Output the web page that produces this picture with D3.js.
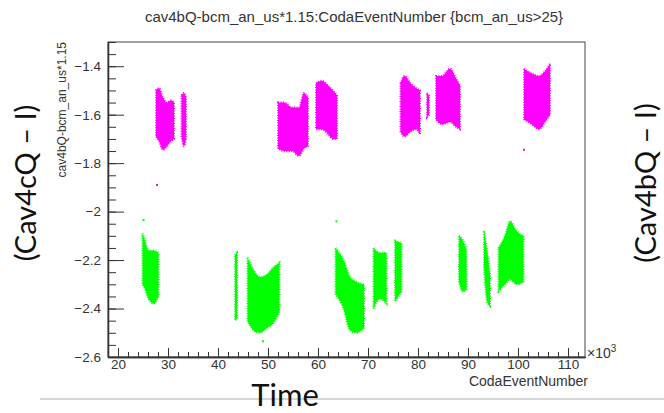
<!DOCTYPE html>
<html>
<head>
<meta charset="utf-8">
<script src="https://cdn.jsdelivr.net/npm/d3@7"></script>
<style>
  body { margin: 0; background: #fff; }
  svg { display: block; }
  .axis text { font-family: "Liberation Sans", Arial, sans-serif; font-size: 13.5px; fill: #333; }
  .axis path, .axis line { stroke: #333; }
</style>
</head>
<body>
<svg width="664" height="413"></svg>
<script>
// axis setup (x in units of 10^3 events)
var xMajor = [20, 30, 40, 50, 60, 70, 80, 90, 100, 110];
var yMajor = [-2.6, -2.4, -2.2, -2, -1.8, -1.6, -1.4];
var yLabels = ["\u22122.6", "\u22122.4", "\u22122.2", "\u22122", "\u22121.8", "\u22121.6", "\u22121.4"];

// clusters: [event(10^3), low, high]
var magenta = [
  [[27.6,-1.69,-1.50],[28.2,-1.71,-1.49],[29.0,-1.745,-1.53],[29.8,-1.73,-1.55],[30.6,-1.71,-1.54],[31.2,-1.70,-1.55]],
  [[32.7,-1.69,-1.52],[33.2,-1.73,-1.51],[33.6,-1.70,-1.53]],
  [[52.0,-1.74,-1.55],[53.2,-1.75,-1.55],[54.8,-1.75,-1.57],[56.2,-1.77,-1.57],[57.2,-1.74,-1.51],[58.0,-1.73,-1.53]],
  [[59.6,-1.66,-1.47],[60.8,-1.66,-1.46],[62.0,-1.68,-1.48],[63.0,-1.70,-1.50],[63.8,-1.70,-1.52]],
  [[76.5,-1.67,-1.47],[77.3,-1.69,-1.44],[78.5,-1.67,-1.47],[79.6,-1.66,-1.49],[80.4,-1.68,-1.50]],
  [[81.8,-1.61,-1.51],[82.2,-1.60,-1.52]],
  [[83.6,-1.62,-1.44],[84.8,-1.64,-1.44],[86.4,-1.63,-1.41],[87.6,-1.65,-1.45],[88.4,-1.66,-1.48]],
  [[101.2,-1.62,-1.41],[102.8,-1.64,-1.43],[104.2,-1.66,-1.44],[105.4,-1.63,-1.42],[106.4,-1.60,-1.39]]
];
var green = [
  [[24.9,-2.30,-2.09],[25.4,-2.32,-2.12],[26.1,-2.36,-2.16],[27.1,-2.38,-2.16],[28.1,-2.35,-2.17]],
  [[43.4,-2.45,-2.18],[43.8,-2.44,-2.17]],
  [[45.9,-2.45,-2.19],[47.1,-2.49,-2.24],[48.4,-2.50,-2.27],[49.8,-2.48,-2.26],[51.1,-2.46,-2.23],[52.3,-2.41,-2.21]],
  [[63.5,-2.34,-2.15],[65.1,-2.40,-2.20],[66.4,-2.49,-2.27],[67.7,-2.50,-2.29],[69.2,-2.48,-2.30]],
  [[71.1,-2.40,-2.15],[72.4,-2.36,-2.17],[73.7,-2.38,-2.17]],
  [[75.4,-2.37,-2.12],[76.7,-2.33,-2.13]],
  [[88.2,-2.29,-2.10],[89.0,-2.33,-2.12],[89.7,-2.32,-2.16]],
  [[93.2,-2.23,-2.08],[93.8,-2.37,-2.16],[94.4,-2.39,-2.26]],
  [[96.1,-2.33,-2.15],[97.4,-2.30,-2.10],[98.4,-2.28,-2.04],[99.7,-2.30,-2.08],[101.1,-2.29,-2.10]]
];
// stray single points
var magentaOut = [[27.8,-1.89],[101.2,-1.745]];
var greenOut = [[25.1,-2.035],[63.7,-2.04],[49.0,-2.535]];

var svg = d3.select("svg");
var fL = 108, fR = 585, fT = 42, fB = 357;

var x = d3.scaleLinear().domain([18, 113.4]).range([fL, fR]);
var y = d3.scaleLinear().domain([-2.6, -1.3]).range([fB, fT]);

// title
svg.append("text")
  .attr("x", 354).attr("y", 22)
  .attr("text-anchor", "middle")
  .style("font-family", "Liberation Sans, Arial, sans-serif")
  .style("font-size", "15px").style("fill", "#333")
  .text("cav4bQ-bcm_an_us*1.15:CodaEventNumber {bcm_an_us>25}");

// clusters
var area = d3.area()
  .x(d => x(d[0]))
  .y0(d => y(d[1]))
  .y1(d => y(d[2]))
  .curve(d3.curveMonotoneX);

function drawClusters(list, color){
  svg.append("g").selectAll("path")
    .data(list)
    .enter()
    .append("path")
    .attr("d", area)
    .style("fill", color)
    .style("stroke", color)
    .style("stroke-width", 2)
    .style("stroke-dasharray", "1 1.5");
}
drawClusters(magenta, "#ff00ff");
drawClusters(green, "#00ff00");

svg.append("g").selectAll("rect").data(magentaOut).enter().append("rect")
  .attr("x", d => x(d[0]) - 1).attr("y", d => y(d[1]) - 1)
  .attr("width", 2).attr("height", 2).style("fill", "#ff00ff");
svg.append("g").selectAll("rect").data(greenOut).enter().append("rect")
  .attr("x", d => x(d[0]) - 1).attr("y", d => y(d[1]) - 1)
  .attr("width", 2).attr("height", 2).style("fill", "#00ff00");

// frame
svg.append("rect")
  .attr("x", fL).attr("y", fT)
  .attr("width", fR - fL).attr("height", fB - fT)
  .style("fill", "none").style("stroke", "#444").style("stroke-width", 1);

// x axis
svg.append("g").attr("class", "axis")
  .attr("transform", "translate(0," + fB + ")")
  .call(d3.axisBottom(x).tickValues(d3.range(18, 113.4, 2)).tickFormat("").tickSizeInner(-5).tickSizeOuter(0));
svg.append("g").attr("class", "axis")
  .attr("transform", "translate(0," + fB + ")")
  .call(d3.axisBottom(x).tickValues(xMajor).tickSizeInner(-9).tickSizeOuter(0).tickPadding(2));

// y axis
svg.append("g").attr("class", "axis")
  .attr("transform", "translate(" + fL + ",0)")
  .call(d3.axisLeft(y).tickValues(d3.range(-2.6, -1.299, 0.05)).tickFormat("").tickSizeInner(-8).tickSizeOuter(0));
svg.append("g").attr("class", "axis")
  .attr("transform", "translate(" + fL + ",0)")
  .call(d3.axisLeft(y).tickValues(yMajor).tickFormat((d, i) => yLabels[i]).tickSizeInner(-16).tickSizeOuter(0).tickPadding(7));

svg.selectAll(".axis path").style("stroke", "#333").style("stroke-width", 1.3);

// axis titles
svg.append("text")
  .attr("x", 588).attr("y", 386)
  .attr("text-anchor", "end")
  .style("font-family", "Liberation Sans, Arial, sans-serif")
  .style("font-size", "14px").style("fill", "#333")
  .text("CodaEventNumber");

var mult = svg.append("text")
  .attr("x", 587).attr("y", 358)
  .style("font-family", "Liberation Sans, Arial, sans-serif")
  .style("font-size", "14px").style("fill", "#333")
  .text("\u00d710");
mult.append("tspan").attr("dy", -6).style("font-size", "10px").text("3");

svg.append("text")
  .attr("transform", "translate(66," + fT + ") rotate(-90)")
  .attr("text-anchor", "end")
  .style("font-family", "Liberation Sans, Arial, sans-serif")
  .style("font-size", "12px").style("fill", "#333")
  .text("cav4bQ-bcm_an_us*1.15");

// slide decorations
svg.append("line")
  .attr("x1", 40).attr("x2", 664).attr("y1", 399).attr("y2", 399)
  .style("stroke", "#c8c8c8").style("stroke-width", 1.5);

svg.append("text")
  .attr("x", 285).attr("y", 406)
  .attr("text-anchor", "middle")
  .style("font-family", "Lato, sans-serif")
  .style("font-size", "31px").style("fill", "#111")
  .text("Time");

svg.append("text")
  .attr("transform", "translate(36,183) rotate(-90)")
  .attr("text-anchor", "middle")
  .style("font-family", "Lato, sans-serif")
  .style("font-size", "29px").style("fill", "#111")
  .text("(Cav4cQ \u2013 I)");

svg.append("text")
  .attr("transform", "translate(656,183) rotate(-90)")
  .attr("text-anchor", "middle")
  .style("font-family", "Lato, sans-serif")
  .style("font-size", "29px").style("fill", "#111")
  .text("(Cav4bQ \u2013 I)");
</script>
</body>
</html>
